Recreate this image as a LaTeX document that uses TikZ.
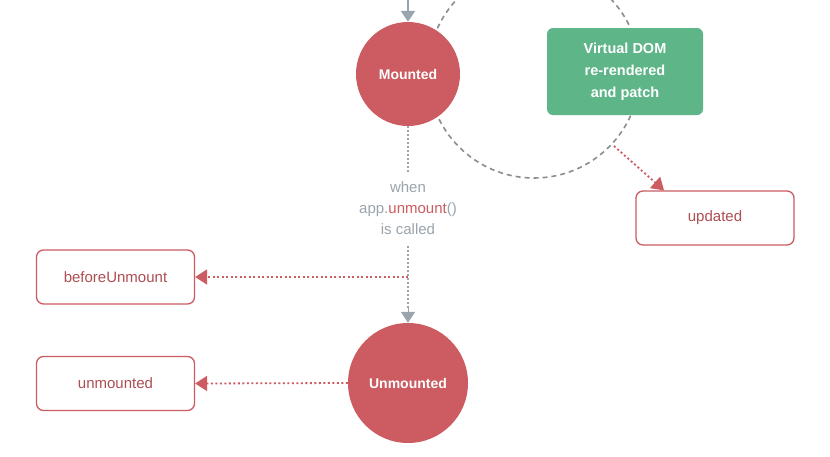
\documentclass[tikz,border=0pt]{standalone}
\usepackage{fontspec}
\setmainfont{Liberation Sans}
\usetikzlibrary{arrows.meta}
\definecolor{vred}{HTML}{CC5C61}
\definecolor{vgreen}{HTML}{5DB588}
\definecolor{vgray}{HTML}{9AA4AD}
\definecolor{vdash}{HTML}{888E94}
\begin{document}
\begin{tikzpicture}[x=1pt,y=-1pt,
  state/.style={circle,fill=vred,text=white,font=\bfseries\fontsize{14}{16}\selectfont,inner sep=0pt},
  hook/.style={draw=vred,line width=1.3pt,rounded corners=7pt,fill=white,text=vred!85!black,font=\fontsize{15}{17}\selectfont,minimum width=158pt,minimum height=54pt,inner sep=0pt},
  grayline/.style={vgray,line width=1.8pt,dash pattern=on 1.5pt off 2.5pt},
  redline/.style={vred,line width=1.8pt,dash pattern=on 2pt off 2.5pt},
  graytip/.style={-{Triangle[length=11pt,width=14pt]}},
  redtip/.style={-{Triangle[length=12pt,width=15pt]}}]
\useasboundingbox (0,0) rectangle (830,456);
\fill[white] (0,0) rectangle (830,456);
% dashed cycle circle
\draw[vdash,line width=1.6pt,dash pattern=on 5pt off 4pt] (534,72) circle[radius=106];
% top incoming arrow
\coordinate (topin) at (408,-2);
\node[state,minimum size=104pt] (mounted) at (408,74) {Mounted};
\draw[vgray,line width=2.5pt,graytip] (topin) -- (mounted.north);
% virtual dom
\node[fill=vgreen,rounded corners=6pt,minimum width=156pt,minimum height=87pt,text=white,font=\bfseries\fontsize{14.5}{22}\selectfont,align=center,inner sep=0pt] (vdom) at (625,71.5) {Virtual DOM\\re-rendered\\and patch};
\node[hook] (updated) at (715,218) {updated};
\coordinate (upstart) at (614,146);
\draw[redline,redtip] (upstart) -- (updated.north west -| 664,0) ;
% when text
\node[text=vgray,font=\fontsize{15}{21}\selectfont,align=center,inner sep=0pt] (when) at (408,208) {when\\app.\textcolor{vred}{unmount}()\\is called};
\node[state,minimum size=120pt] (unmounted) at (408,383) {Unmounted};
\draw[grayline] (mounted.south) -- (408,172);
\coordinate (wbot) at (408,246);
\draw[grayline] (wbot) -- (408,310);
\draw[vgray,line width=1pt,-{Triangle[length=11pt,width=14pt]}] (408,308) -- (unmounted.north);
\node[hook] (before) at (115.5,277) {beforeUnmount};
\node[hook] (unm) at (115.5,383.5) {unmounted};
\coordinate (junc) at (408,277);
\draw[redline,redtip] (junc) -- (before.east);
\draw[redline,redtip] (unmounted.west) -- (unm.east);
\end{tikzpicture}
\end{document}
